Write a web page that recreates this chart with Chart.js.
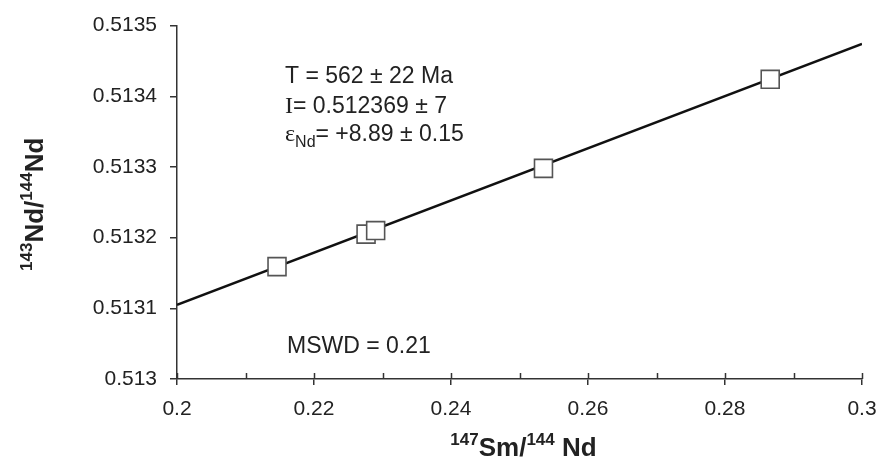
<!DOCTYPE html>
<html><head><meta charset="utf-8">
<script src="https://cdn.jsdelivr.net/npm/chart.js@4.4.0/dist/chart.umd.min.js"></script>
<style>html,body{margin:0;padding:0;background:#fff}#wrap{width:878px;height:460px}</style>
</head><body><div id="wrap"><canvas id="c" width="878" height="460"></canvas></div>
<script>
// Sample data: 147Sm/144Nd vs 143Nd/144Nd
const smNdRatio = [0.2146, 0.2276, 0.2290, 0.2535, 0.2866];
const ndNdRatio = [0.513159, 0.513205, 0.513210, 0.513298, 0.513424];
// Isochron end points
const isochronX = [0.2, 0.3];
const isochronY = [0.513105, 0.513474];
// Axis ranges
const xRange = [0.2, 0.3];
const yRange = [0.513, 0.5135];
const xStepMajor = 0.02, xStepMinor = 0.01, yStep = 0.0001;
// Annotation texts
const ageText = 'T = 562 ± 22 Ma';
const initText = '= 0.512369 ± 7';
const epsText = '= +8.89 ± 0.15';
const mswdText = 'MSWD = 0.21';

const SANS = '"Liberation Sans", Arial, Helvetica, sans-serif';
const SERIF = '"Liberation Serif", "Times New Roman", serif';

function drawRuns(ctx, runs, x, y, align) {
  let total = 0;
  runs.forEach(r => { ctx.font = r.font; r.w = ctx.measureText(r.text).width; total += r.w; });
  let cx = align === 'center' ? x - total / 2 : x;
  runs.forEach(r => { ctx.font = r.font; ctx.fillText(r.text, cx, y + (r.dy || 0)); cx += r.w; });
}

const decor = {
  id: 'decor',
  afterDraw(chart) {
    const ctx = chart.ctx, xs = chart.scales.x, ca = chart.chartArea;
    ctx.save();
    // inner ticks on x axis (major + minor)
    ctx.strokeStyle = '#333'; ctx.lineWidth = 1.5;
    const n = Math.round((xRange[1] - xRange[0]) / xStepMinor);
    for (let i = 0; i <= n; i++) {
      const px = Math.round(xs.getPixelForValue(xRange[0] + i * xStepMinor)) + 0.5;
      ctx.beginPath(); ctx.moveTo(px, ca.bottom); ctx.lineTo(px, ca.bottom - 6); ctx.stroke();
    }
    ctx.fillStyle = '#222'; ctx.textAlign = 'left'; ctx.textBaseline = 'alphabetic';
    // annotations
    const tx = ca.left + 108;
    ctx.font = '23px ' + SANS; ctx.fillText(ageText, tx, 83);
    drawRuns(ctx, [{text: 'I', font: '24px ' + SERIF}, {text: initText, font: '23px ' + SANS}], tx, 113, 'left');
    drawRuns(ctx, [{text: 'ε', font: '24px ' + SERIF}, {text: 'Nd', font: '16px ' + SANS, dy: 6}, {text: epsText, font: '23px ' + SANS}], tx, 141, 'left');
    ctx.font = '23px ' + SANS; ctx.fillText(mswdText, tx + 2, 353);
    // x title
    const B = 'bold ';
    drawRuns(ctx, [
      {text: '147', font: B + '17px ' + SANS, dy: -11},
      {text: 'Sm/', font: B + '26px ' + SANS},
      {text: '144', font: B + '17px ' + SANS, dy: -11},
      {text: ' Nd', font: B + '26px ' + SANS}
    ], (ca.left + ca.right) / 2 + 4, 456, 'center');
    // y title
    ctx.translate(43, (ca.top + ca.bottom) / 2 + 2);
    ctx.rotate(-Math.PI / 2);
    drawRuns(ctx, [
      {text: '143', font: B + '17px ' + SANS, dy: -11},
      {text: 'Nd/', font: B + '26px ' + SANS},
      {text: '144', font: B + '17px ' + SANS, dy: -11},
      {text: 'Nd', font: B + '26px ' + SANS}
    ], 0, 0, 'center');
    ctx.restore();
  }
};

new Chart(document.getElementById('c'), {
  type: 'scatter',
  data: {
    datasets: [
      {
        label: 'isochron', type: 'line', showLine: true,
        data: isochronX.map((x, i) => ({x: x, y: isochronY[i]})),
        borderColor: '#111', borderWidth: 2.6, pointRadius: 0, fill: false, order: 2
      },
      {
        label: 'samples',
        data: smNdRatio.map((x, i) => ({x: x, y: ndNdRatio[i]})),
        pointStyle: 'rect', pointRadius: 12.7, pointHoverRadius: 12.7,
        backgroundColor: '#fff', borderColor: '#555', borderWidth: 1.6, order: 1
      }
    ]
  },
  options: {
    responsive: false, animation: false, devicePixelRatio: 1,
    layout: {padding: {top: 25, right: 0, left: 0, bottom: 0}},
    plugins: {legend: {display: false}, tooltip: {enabled: false}},
    scales: {
      x: {
        type: 'linear', min: xRange[0], max: xRange[1],
        afterFit(s) { s.height = 81; s.paddingRight = 16; s.paddingLeft = 0; },
        border: {color: '#333', width: 1.5},
        grid: {drawOnChartArea: false, tickLength: 6, color: '#333', lineWidth: 1.5},
        ticks: {stepSize: xStepMajor, padding: 12, color: '#222', font: {family: SANS, size: 21},
          callback: v => String(parseFloat(Number(v).toFixed(2)))}
      },
      y: {
        type: 'linear', min: yRange[0], max: yRange[1],
        afterFit(s) { s.width = 177; },
        border: {color: '#333', width: 1.5},
        grid: {drawOnChartArea: false, tickLength: 7, color: '#333', lineWidth: 1.5},
        ticks: {stepSize: yStep, padding: 13, color: '#222', font: {family: SANS, size: 21},
          callback: v => String(parseFloat(Number(v).toFixed(4)))}
      }
    }
  },
  plugins: [decor]
});
</script>
</body></html>
